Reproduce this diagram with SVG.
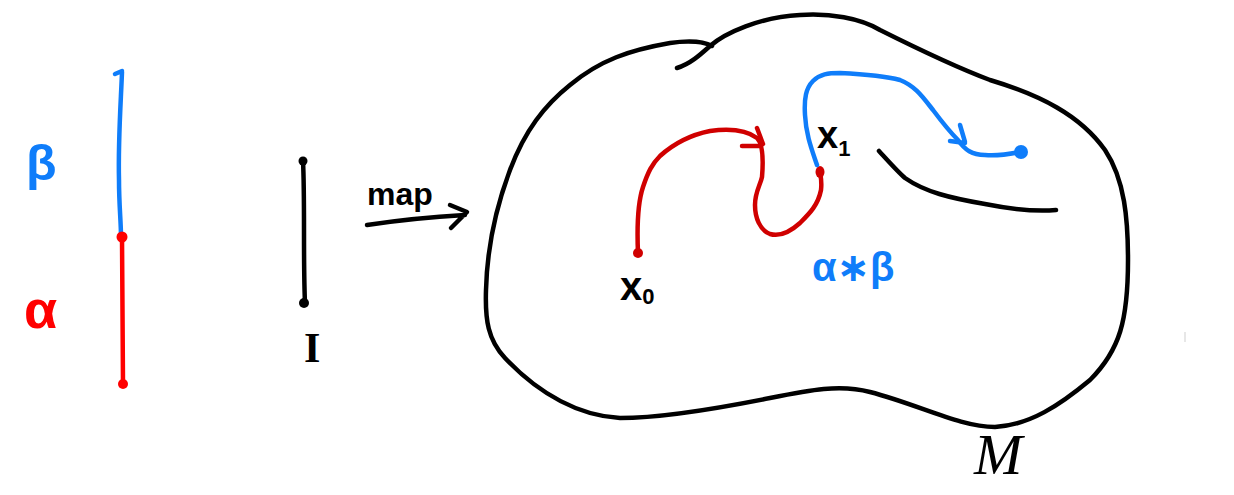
<svg xmlns="http://www.w3.org/2000/svg" width="1234" height="495" viewBox="0 0 1234 495">
<style>
.k{fill:none;stroke:#000;stroke-width:4.5;stroke-linecap:round;stroke-linejoin:round}
.b{fill:none;stroke:#0f7dfa;stroke-width:4.5;stroke-linecap:round;stroke-linejoin:round}
.r{fill:none;stroke:#ff0000;stroke-width:4.5;stroke-linecap:round;stroke-linejoin:round}
.dr{fill:none;stroke:#d00000;stroke-width:4.5;stroke-linecap:round;stroke-linejoin:round}
.t{font-family:"Liberation Sans","DejaVu Sans",sans-serif;font-weight:bold}
.s{font-family:"Liberation Serif","DejaVu Serif",serif}
</style>
<rect width="1234" height="495" fill="#fff"/>
<g id="segment-alpha-beta">
<path class="b" d="M115,74 L122,71 M122,72 C121,100 118,140 119,180 C119,205 121,222 121,237"/>
<path class="r" d="M122,237 C122,290 123,340 123,384"/>
<circle cx="122" cy="237" r="5.5" fill="#ff0000"/>
<circle cx="123" cy="384" r="5" fill="#ff0000"/>
<text class="t" x="26" y="180" font-size="50" fill="#0f7dfa">β</text>
<text class="t" x="24" y="328" font-size="54" fill="#ff0000">α</text>
</g>
<g id="interval-I">
<path class="k" d="M303,161 C305,200 303,260 305,303"/>
<circle cx="303" cy="161" r="4.5" fill="#000"/>
<circle cx="304" cy="303" r="5" fill="#000"/>
<text class="s" x="304" y="362" font-size="42" font-weight="bold" fill="#000">I</text>
</g>
<g id="connectors">
<path class="k" d="M367,225 C400,220 430,217 465,215 M450,205 L467,212 L451,228"/>
<text class="t" x="367" y="205" font-size="32" fill="#000">map</text>
</g>
<g id="manifold-M">
<path class="k" d="M677,68 C690,64 700,55 710,46 C725,33 760,17 800,15 C830,13 860,18 880,30 C910,45 950,65 990,80 C1040,95 1080,115 1105,150 C1125,180 1128,220 1128,260 C1128,320 1120,350 1090,380 C1060,405 1030,425 995,427 C960,427 920,405 870,392 C840,384 810,390 770,398 C720,408 660,418 620,418 C580,416 540,395 505,358 C488,340 485,320 486,290 C487,250 495,210 510,170 C525,130 545,105 570,85 C600,60 630,50 670,43 C690,40 705,42 712,46"/>
<path class="k" d="M879,151 C890,163 898,172 905,178 C925,192 950,198 985,204 C1010,209 1035,212 1056,210"/>
<text class="s" x="974" y="474" font-size="58" font-style="italic" fill="#000">M</text>
</g>
<g id="path-alpha">
<path class="dr" d="M638,253 C637,230 637,205 643,187 C648,172 652,164 660,156 C670,147 685,136 710,131 C725,129 745,129 757,138 C764,145 763,165 762,177 C760,186 755,192 755,205 C755,218 760,230 770,234 C780,237 790,232 800,223 C810,213 818,205 821,190 C822,182 821,178 820,172"/>
<path class="dr" d="M742,146 L761,146 M757,128 L763,144"/>
<circle cx="638" cy="253" r="5" fill="#d00000"/>
<ellipse cx="820" cy="172" rx="4.5" ry="6" fill="#d00000"/>
<text class="t" x="620" y="300" font-size="40" fill="#000">x<tspan font-size="22" dy="4">0</tspan></text>
<text class="t" x="817" y="148" font-size="38" fill="#000">x<tspan font-size="22" dy="8">1</tspan></text>
</g>
<g id="path-beta">
<path class="b" d="M817,165 C812,150 806,135 805,115 C804,98 806,88 813,81 C820,74 828,73 840,73 C860,74 885,76 900,80 C915,86 922,96 933,110 C942,122 950,132 958,140 C965,150 972,155 985,155 C995,156 1005,155 1020,152"/>
<path class="b" d="M960,125 L965,142 M950,141 L965,143"/>
<circle cx="1021" cy="152" r="7" fill="#0f7dfa"/>
<text class="t" x="812" y="281" font-size="40" fill="#0f7dfa">α∗β</text>
</g>
<line x1="1185" y1="332" x2="1185" y2="342" stroke="#cfcfcf" stroke-width="1"/>
</svg>
